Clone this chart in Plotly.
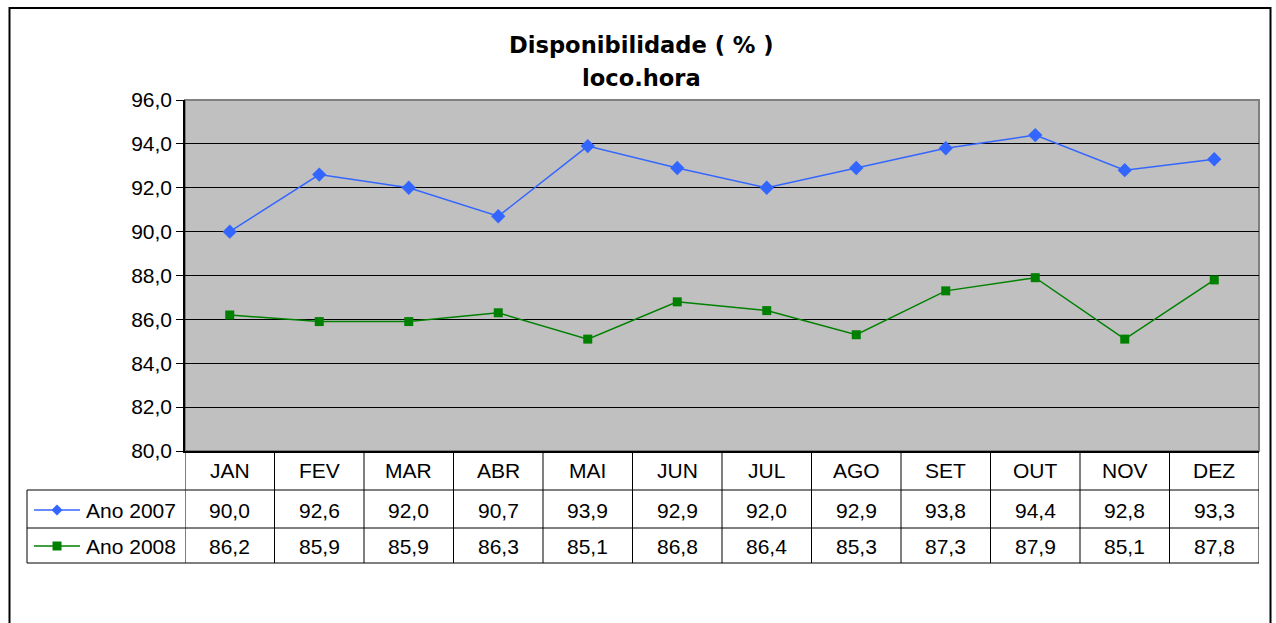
import plotly.graph_objects as go

months = ["JAN", "FEV", "MAR", "ABR", "MAI", "JUN", "JUL", "AGO", "SET", "OUT", "NOV", "DEZ"]
ano_2007 = [90.0, 92.6, 92.0, 90.7, 93.9, 92.9, 92.0, 92.9, 93.8, 94.4, 92.8, 93.3]
ano_2008 = [86.2, 85.9, 85.9, 86.3, 85.1, 86.8, 86.4, 85.3, 87.3, 87.9, 85.1, 87.8]
series_names = ["Ano 2007", "Ano 2008"]
series_colors = ["#3366FF", "#008000"]
y_ticks = [80, 82, 84, 86, 88, 90, 92, 94, 96]

W, H = 1276, 623
L, R, T, B = 185, 1259, 100, 451  # plot area in pixels


def px(p):
    return (p - L) / (R - L)


def py(p):
    return (B - p) / (B - T)


FONT = "Liberation Sans, Arial, sans-serif"
TFONT = "DejaVu Sans, Liberation Sans, sans-serif"
FS = 21
x_idx = list(range(len(months)))

fig = go.Figure()
fig.add_trace(go.Scatter(x=x_idx, y=ano_2007, mode="lines+markers", name=series_names[0],
                         line=dict(color=series_colors[0], width=1.5),
                         marker=dict(symbol="diamond", size=11, color=series_colors[0])))
fig.add_trace(go.Scatter(x=x_idx, y=ano_2008, mode="lines+markers", name=series_names[1],
                         line=dict(color=series_colors[1], width=1.5),
                         marker=dict(symbol="square", size=9, color=series_colors[1])))

shapes = []
# plot area border (gray top/right)
shapes.append(dict(type="rect", xref="paper", yref="paper", x0=0, x1=1, y0=0, y1=1,
                   line=dict(color="#808080", width=2), layer="below"))
# outer chart border
shapes.append(dict(type="rect", xref="paper", yref="paper", x0=px(9.5), x1=px(1270.5), y0=py(700), y1=py(8),
                   line=dict(color="#000000", width=2), layer="below"))
# table vertical lines at column boundaries
for i in range(len(months) + 1):
    shapes.append(dict(type="line", xref="x", yref="paper", x0=i - 0.5, x1=i - 0.5,
                       y0=py(451), y1=py(563), line=dict(color="#000000", width=1)))
# table horizontal lines
for yy in [490, 528, 563]:
    shapes.append(dict(type="line", xref="paper", yref="paper", x0=px(27), x1=1,
                       y0=py(yy), y1=py(yy), line=dict(color="#000000", width=1)))
shapes.append(dict(type="line", xref="paper", yref="paper", x0=px(27), x1=px(27),
                   y0=py(490), y1=py(563), line=dict(color="#000000", width=1)))

annotations = []
# title
annotations.append(dict(text="<b>Disponibilidade ( % )</b>", xref="paper", yref="paper",
                        x=px(641), y=py(45), showarrow=False, xanchor="center", yanchor="middle",
                        font=dict(family=TFONT, size=22.6, color="#000000")))
annotations.append(dict(text="<b>loco.hora</b>", xref="paper", yref="paper",
                        x=px(641), y=py(78), showarrow=False, xanchor="center", yanchor="middle",
                        font=dict(family=TFONT, size=22.6, color="#000000")))

row_y = [py(470), py(510), py(546)]
for i, m in enumerate(months):
    annotations.append(dict(text=m, xref="x", yref="paper", x=i, y=row_y[0], showarrow=False,
                            xanchor="center", yanchor="middle", font=dict(family=FONT, size=FS, color="#000000")))
for r, vals in enumerate([ano_2007, ano_2008]):
    for i, v in enumerate(vals):
        annotations.append(dict(text=f"{v:.1f}".replace(".", ","), xref="x", yref="paper", x=i, y=row_y[r + 1],
                                showarrow=False, xanchor="center", yanchor="middle",
                                font=dict(family=FONT, size=FS, color="#000000")))
    # legend key
    ky = row_y[r + 1]
    shapes.append(dict(type="line", xref="paper", yref="paper", x0=px(34), x1=px(80), y0=ky, y1=ky,
                       line=dict(color=series_colors[r], width=1.5)))
    cx = px(57)
    if r == 0:
        dx = 5.5 / (R - L)
        dy = 5.5 / (B - T)
        shapes.append(dict(type="path", xref="paper", yref="paper",
                           path=f"M {cx - dx} {ky} L {cx} {ky + dy} L {cx + dx} {ky} L {cx} {ky - dy} Z",
                           fillcolor=series_colors[r], line=dict(color=series_colors[r], width=0)))
    else:
        dx = 4.5 / (R - L)
        dy = 4.5 / (B - T)
        shapes.append(dict(type="rect", xref="paper", yref="paper", x0=cx - dx, x1=cx + dx, y0=ky - dy, y1=ky + dy,
                           fillcolor=series_colors[r], line=dict(color=series_colors[r], width=0)))
    annotations.append(dict(text=series_names[r], xref="paper", yref="paper", x=px(84), y=ky,
                            showarrow=False, xanchor="left", yanchor="middle",
                            font=dict(family=FONT, size=FS, color="#000000")))

fig.update_layout(
    width=W, height=H,
    margin=dict(l=L, r=W - R, t=T, b=H - B, pad=0),
    paper_bgcolor="#FFFFFF", plot_bgcolor="#C0C0C0",
    separators=",.",
    showlegend=False,
    font=dict(family=FONT, size=FS, color="#000000"),
    xaxis=dict(range=[-0.5, len(months) - 0.5], showticklabels=False, showgrid=False, zeroline=False,
               showline=True, linecolor="#000000", linewidth=1.5, ticks=""),
    yaxis=dict(range=[80, 96], tickvals=y_ticks, tickformat=".1f", showgrid=True, gridcolor="#000000",
               gridwidth=1, zeroline=False, showline=True, linecolor="#000000", linewidth=1.5,
               ticks="outside", ticklen=7, tickcolor="#000000", tickfont=dict(family=FONT, size=FS)),
    shapes=shapes, annotations=annotations,
)

fig.write_html("out.html", config={"displayModeBar": False},
               post_script="document.body.style.margin='0';document.body.style.overflow='hidden';")
